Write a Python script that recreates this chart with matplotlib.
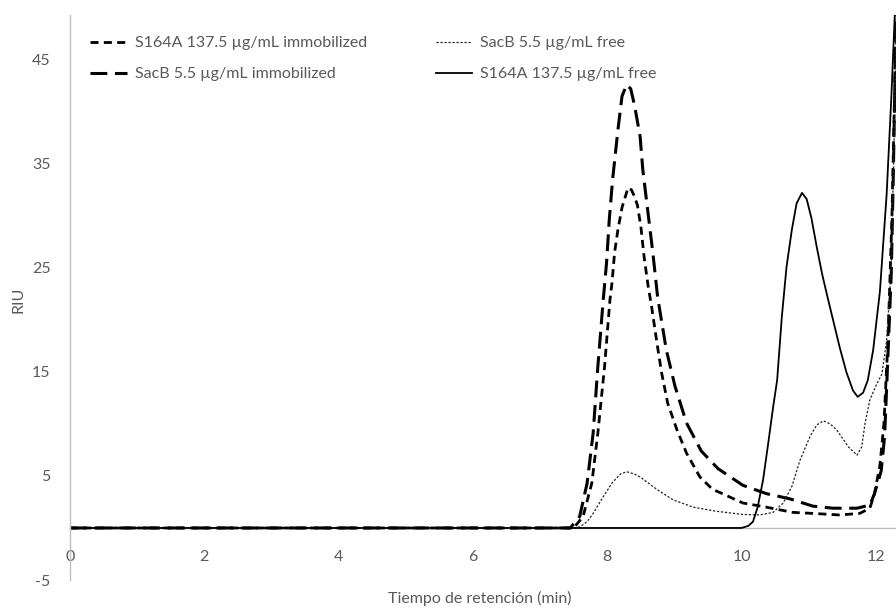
import matplotlib
matplotlib.use("Agg")
import matplotlib.pyplot as plt

plt.rcParams['font.family'] = ['Lato', 'DejaVu Sans']
plt.rcParams['axes.unicode_minus'] = False

# ---- data ----
labels = ["S164A 137.5 µg/mL immobilized", "SacB 5.5 µg/mL immobilized",
          "SacB 5.5 µg/mL free", "S164A 137.5 µg/mL free"]

s164a_imm_x = [0, 7.5, 7.64, 7.77, 7.86, 7.96, 8.04, 8.07, 8.11, 8.16, 8.22, 8.31, 8.36, 8.41,
               8.45, 8.50, 8.55, 8.61, 8.66, 8.74, 8.81, 8.90, 9.04, 9.18, 9.38, 9.57, 9.68,
               10.02, 10.37, 10.76, 11.06, 11.46, 11.76, 11.91, 11.98, 12.06, 12.12, 12.18,
               12.24, 12.29, 12.31]
s164a_imm_y = [0, 0, 1.1, 4.3, 9.1, 15.5, 21.9, 23.5, 26.5, 28.7, 30.8, 32.7, 32.5, 31.8,
               31.0, 29.0, 26.0, 23.2, 21.3, 17.8, 14.9, 12.0, 9.4, 7.2, 4.9, 3.7, 3.4,
               2.4, 2.0, 1.5, 1.4, 1.25, 1.4, 1.9, 3.3, 6.0, 10.0, 18.0,
               30.0, 45.0, 52.0]

sacb_imm_x = [0, 7.45, 7.59, 7.70, 7.79, 7.86, 7.94, 7.99, 8.03, 8.08, 8.16, 8.22, 8.29, 8.35,
              8.41, 8.49, 8.53, 8.59, 8.68, 8.75, 8.88, 9.01, 9.18, 9.40, 9.65, 10.02, 10.37,
              10.72, 11.06, 11.36, 11.72, 11.91, 11.98, 12.08, 12.13, 12.16, 12.23, 12.26,
              12.29, 12.31]
sacb_imm_y = [0, 0, 1.1, 4.3, 9.1, 15.5, 21.9, 25.5, 29.6, 33.5, 38.3, 41.5, 42.6, 42.2,
              40.5, 37.6, 34.4, 31.2, 26.4, 22.2, 17.1, 13.6, 10.1, 7.4, 5.7, 4.1, 3.3,
              2.8, 2.1, 1.9, 1.9, 2.2, 3.3, 5.5, 8.8, 13.4, 24.6, 34.0,
              45.0, 52.0]

sacb_free_x = [0, 7.5, 7.59, 7.70, 7.79, 7.94, 8.08, 8.20, 8.29, 8.40, 8.49, 8.74, 8.98, 9.28,
               9.63, 10.02, 10.27, 10.47, 10.62, 10.75, 10.87, 11.02, 11.12, 11.22, 11.32,
               11.42, 11.59, 11.72, 11.79, 11.84, 11.91, 12.01, 12.09, 12.16, 12.23, 12.28,
               12.31]
sacb_free_y = [0, 0, 0.1, 0.6, 1.4, 3.0, 4.4, 5.2, 5.4, 5.2, 4.9, 3.7, 2.7, 2.0,
               1.6, 1.3, 1.25, 1.5, 2.4, 4.0, 6.5, 8.8, 9.9, 10.3, 10.0,
               9.4, 7.8, 7.0, 7.8, 10.1, 12.3, 13.8, 14.8, 18.0, 25.0, 39.5,
               52.0]

s164a_free_x = [0, 10.0, 10.10, 10.17, 10.24, 10.32, 10.39, 10.47, 10.53, 10.60, 10.67, 10.75,
                10.82, 10.90, 10.97, 11.04, 11.12, 11.20, 11.28, 11.37, 11.46, 11.56, 11.66,
                11.73, 11.81, 11.88, 11.96, 12.06, 12.16, 12.23, 12.28, 12.30]
s164a_free_y = [0, 0, 0.2, 0.6, 2.0, 4.6, 7.8, 11.6, 14.2, 20.3, 25.1, 28.7,
                31.2, 32.2, 31.6, 29.8, 27.0, 24.4, 22.2, 19.8, 17.4, 15.0, 13.2,
                12.6, 13.0, 14.2, 17.1, 22.7, 32.0, 41.3, 49.0, 52.0]

x_ticks = [0, 2, 4, 6, 8, 10, 12]
y_ticks = [-5, 5, 15, 25, 35, 45]

# ---- figure ----
fig = plt.figure(figsize=(8.96, 6.10), dpi=100)
ax = fig.add_axes([70/896, 1-580/610, 1-70/896, (580-15)/610])

text_col = '#595959'
axis_col = '#bfbfbf'

l1, = ax.plot(s164a_imm_x, s164a_imm_y, color='black', lw=2.0,
              linestyle=(0, (2.9, 1.9)), label=labels[0])
l2, = ax.plot(sacb_imm_x, sacb_imm_y, color='black', lw=2.2,
              linestyle=(0, (5.5, 2.5)), label=labels[1])
l3, = ax.plot(sacb_free_x, sacb_free_y, color='#222222', lw=0.9,
              linestyle=(0, (1.8, 1.4)), label=labels[2])
l4, = ax.plot(s164a_free_x, s164a_free_y, color='black', lw=1.3,
              linestyle='-', label=labels[3])

ax.set_xlim(0, 12.3)
ax.set_ylim(-5, 49.3)
ax.set_xticks(x_ticks)
ax.set_yticks(y_ticks)

for s in ['top', 'right']:
    ax.spines[s].set_visible(False)
ax.spines['bottom'].set_position(('data', 0))
ax.spines['bottom'].set_color(axis_col)
ax.spines['left'].set_color(axis_col)
ax.spines['bottom'].set_linewidth(1.0)
ax.spines['left'].set_linewidth(1.0)
ax.spines['bottom'].set_zorder(0)

ax.tick_params(axis='both', length=0, labelsize=11.5, labelcolor=text_col)
ax.tick_params(axis='x', pad=16)
ax.tick_params(axis='y', pad=14)

fig.text(480/896, 1-598/610, "Tiempo de retención (min)", ha='center', va='center',
         fontsize=11.5, color=text_col)
fig.text(18/896, 1-300/610, "RIU", ha='center', va='center', rotation=90,
         fontsize=11.5, color=text_col)

leg = fig.legend(handles=[l1, l2, l3, l4], ncol=2, loc='upper left',
                 bbox_to_anchor=(90/896, 1-36/610), bbox_transform=fig.transFigure,
                 frameon=False, fontsize=11.5, handlelength=2.3, handletextpad=0.5,
                 columnspacing=4.3, labelspacing=1.05, borderpad=0, borderaxespad=0)
for t in leg.get_texts():
    t.set_color(text_col)

fig.savefig("out.png", dpi=100)
